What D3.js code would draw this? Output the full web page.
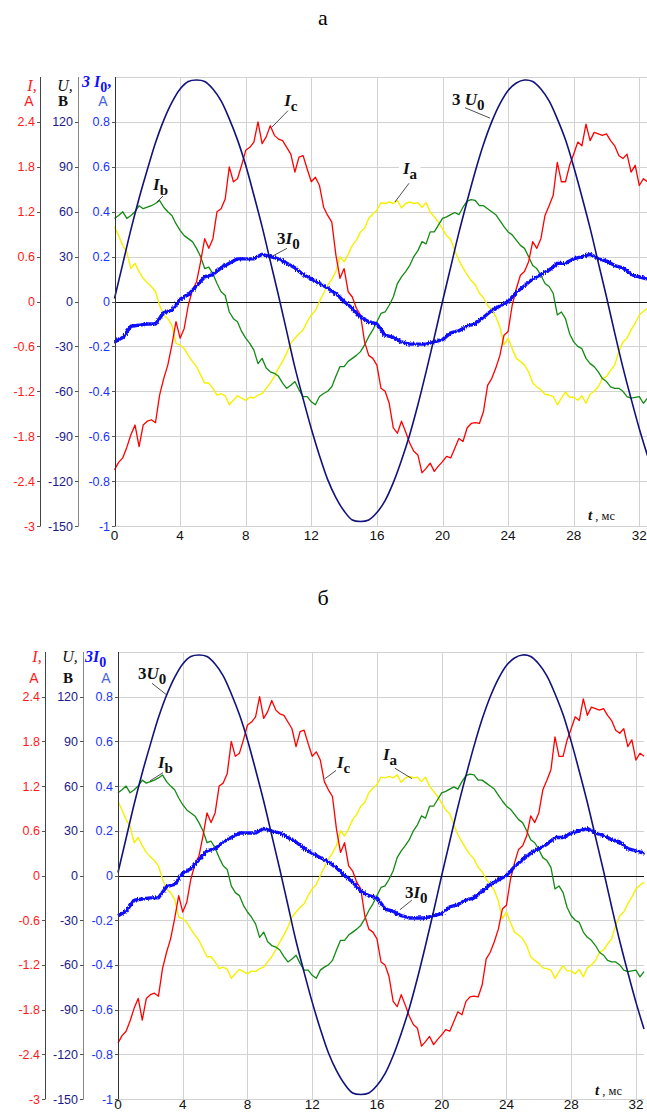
<!DOCTYPE html>
<html>
<head>
<meta charset="utf-8">
<script src="https://cdn.jsdelivr.net/npm/d3@7"></script>
<style>
  body { margin: 0; background: #fff; }
  svg { display: block; }
</style>
</head>
<body>
<svg id="chart" width="647" height="1113"></svg>
<script>
// ---- recorded waveforms, t = 0 … 32.5 ms ----
const STEP_FAST = 0.25;   // ms, phase currents
const STEP_SLOW = 0.5;    // ms, zero-sequence quantities

// phase current Ia, A
const currentA = [
  1.00, 0.88, 0.75, 0.66, 0.44, 0.51, 0.40, 0.31, 0.25, 0.20, 0.13, -0.05,
  -0.18, -0.23, -0.32, -0.56, -0.58, -0.63, -0.72, -0.80, -0.87, -0.98, -1.09, -1.09,
  -1.16, -1.25, -1.23, -1.26, -1.38, -1.32, -1.26, -1.29, -1.32, -1.28, -1.29, -1.25,
  -1.23, -1.16, -1.09, -1.00, -0.89, -0.80, -0.69, -0.56, -0.49, -0.43, -0.38, -0.27,
  -0.18, -0.12, 0.00, 0.11, 0.22, 0.30, 0.40, 0.60, 0.53, 0.63, 0.75, 0.82,
  0.93, 0.98, 1.11, 1.17, 1.22, 1.32, 1.31, 1.33, 1.31, 1.35, 1.25, 1.31,
  1.33, 1.31, 1.32, 1.26, 1.32, 1.20, 1.13, 1.06, 0.97, 0.88, 0.83, 0.68,
  0.55, 0.45, 0.36, 0.28, 0.22, 0.11, 0.05, -0.05, -0.12, -0.20, -0.34, -0.58,
  -0.49, -0.63, -0.76, -0.80, -0.85, -0.94, -1.09, -1.14, -1.18, -1.24, -1.25, -1.27,
  -1.38, -1.29, -1.21, -1.28, -1.28, -1.32, -1.26, -1.36, -1.24, -1.20, -1.14, -1.03,
  -1.00, -0.92, -0.85, -0.67, -0.54, -0.49, -0.38, -0.29, -0.18, -0.13, -0.09
];

// phase current Ib, A
const currentB = [
  1.11, 1.15, 1.20, 1.11, 1.15, 1.20, 1.28, 1.24, 1.26, 1.28, 1.31, 1.35,
  1.26, 1.20, 1.15, 1.04, 0.95, 0.88, 0.84, 0.80, 0.71, 0.60, 0.44, 0.46,
  0.37, 0.24, 0.13, 0.08, -0.14, -0.23, -0.27, -0.40, -0.49, -0.56, -0.65, -0.83,
  -0.76, -0.89, -0.94, -0.96, -1.00, -1.09, -1.16, -1.12, -1.07, -1.18, -1.27, -1.27,
  -1.34, -1.38, -1.27, -1.23, -1.20, -1.14, -1.00, -0.87, -0.87, -0.80, -0.76, -0.72,
  -0.67, -0.58, -0.47, -0.38, -0.27, -0.16, -0.14, -0.05, 0.06, 0.24, 0.33, 0.40,
  0.48, 0.60, 0.68, 0.80, 0.77, 0.93, 0.93, 1.02, 1.11, 1.13, 1.16, 1.19,
  1.16, 1.26, 1.34, 1.36, 1.35, 1.28, 1.28, 1.24, 1.20, 1.16, 1.08, 1.00,
  0.93, 0.89, 0.82, 0.75, 0.71, 0.60, 0.48, 0.44, 0.35, 0.24, 0.20, 0.11,
  -0.18, -0.14, -0.23, -0.43, -0.54, -0.60, -0.63, -0.76, -0.83, -0.87, -0.94, -1.03,
  -1.07, -1.14, -1.16, -1.16, -1.20, -1.27, -1.29, -1.28, -1.27, -1.36, -1.29
];

// phase current Ic, A
const currentC = [
  -2.25, -2.15, -2.09, -1.95, -1.78, -1.65, -1.94, -1.65, -1.60, -1.58, -1.62, -1.25,
  -1.03, -0.85, -0.58, -0.27, -0.49, -0.36, -0.05, 0.15, 0.26, 0.53, 0.84, 0.71,
  0.84, 1.20, 1.24, 1.37, 1.80, 1.60, 1.64, 1.82, 2.02, 2.06, 2.13, 2.40,
  2.11, 2.20, 2.35, 2.22, 2.17, 2.15, 2.06, 1.97, 1.73, 1.93, 1.95, 1.77,
  1.60, 1.66, 1.55, 1.26, 1.15, 1.06, 0.62, 0.31, 0.44, 0.13, 0.06, -0.09,
  -0.18, -0.54, -0.72, -0.76, -0.85, -1.16, -1.20, -1.36, -1.69, -1.76, -1.60, -1.74,
  -1.89, -2.00, -2.05, -2.29, -2.23, -2.16, -2.27, -2.20, -2.14, -2.07, -2.09, -1.96,
  -1.83, -1.87, -1.69, -1.63, -1.62, -1.63, -1.47, -1.12, -1.03, -0.89, -0.72, -0.45,
  -0.40, -0.05, 0.17, 0.35, 0.40, 0.53, 0.80, 0.71, 0.84, 1.15, 1.28, 1.42,
  1.86, 1.60, 1.60, 1.82, 1.97, 2.13, 2.08, 2.37, 2.15, 2.26, 2.24, 2.22,
  2.24, 2.15, 2.08, 1.95, 1.91, 1.97, 1.73, 1.82, 1.55, 1.64, 1.60
];

// zero-sequence current 3I0, A
const zeroCurrent = [
  -0.18, -0.16, -0.11, -0.105, -0.10, -0.10, -0.05, -0.04, 0.01, 0.03, 0.07, 0.11,
  0.12, 0.15, 0.17, 0.19, 0.19, 0.19, 0.21, 0.20, 0.19, 0.17, 0.15, 0.12,
  0.10, 0.08, 0.06, 0.035, 0.00, -0.03, -0.07, -0.09, -0.10, -0.15, -0.16, -0.18,
  -0.19, -0.19, -0.19, -0.18, -0.17, -0.14, -0.13, -0.11, -0.10, -0.07, -0.04, -0.02,
  0.00, 0.04, 0.07, 0.10, 0.12, 0.14, 0.17, 0.17, 0.19, 0.20, 0.21, 0.19,
  0.18, 0.16, 0.15, 0.12, 0.11, 0.10
];

// zero-sequence voltage 3U0, V
const zeroVoltage = [
  2, 25, 48, 69, 88, 106, 121, 133, 142, 147, 148, 147,
  142, 134, 122, 108, 91, 71, 50, 27, 4, -20, -44, -65,
  -85, -103, -119, -131, -140, -146, -147, -146, -141, -133, -121, -106,
  -89, -69, -47, -24, 0, 23, 46, 67, 87, 105, 120, 132,
  141, 146, 148, 147, 142, 134, 122, 108, 90, 70, 49, 26,
  3, -21, -44, -65, -85, -103
];

// ---- axes ----
const timeTicks = [0, 4, 8, 12, 16, 20, 24, 28, 32];
const currentTicks = [-3, -2.4, -1.8, -1.2, -0.6, 0, 0.6, 1.2, 1.8, 2.4];
const voltageTicks = [-150, -120, -90, -60, -30, 0, 30, 60, 90, 120];
const zeroCurrentTicks = [-1, -0.8, -0.6, -0.4, -0.2, 0, 0.2, 0.4, 0.6, 0.8];

const COLORS = {
  a: "#f6f000", b: "#138a13", c: "#ff0000", i0: "#1010ff", u0: "#12127c",
  iAxis: "#ff1a1a", uAxis: "#1b1b86", i0Axis: "#1a33ff"
};

// the two oscillogram panels share the record, differing in layout and annotation
const panels = [
  {
    title: "а", titleY: 25,
    left: 114.5, right: 647.5, top: 77, bottom: 526,
    axisI: 40, axisU: 78,
    headRow1: 91, headRow2: 106, headI0Row1: 87,
    tickBaseline: 14, tLabel: [588, 520],
    i0Title: "3 I", i0Comma: true,
    labels: [
      { pre: "",   main: "I", sub: "c", at: [10.35, 2.61], lead: [[10.58, 2.55], [9.60, 2.33]] },
      { pre: "",   main: "I", sub: "b", at: [2.35, 1.49],  lead: [[2.96, 1.41], [2.59, 1.33]] },
      { pre: "3",  main: "I", sub: "0", at: [9.91, 0.77],  lead: [[10.52, 0.71], [9.66, 0.61]] },
      { pre: "",   main: "I", sub: "a", at: [17.59, 1.71], lead: [[17.96, 1.58], [17.10, 1.33]] },
      { pre: "3 ", main: "U", sub: "0", at: [20.58, 2.62], lead: [[21.37, 2.59], [22.90, 2.45]] }
    ]
  },
  {
    title: "б", titleY: 605,
    left: 118, right: 644, top: 652, bottom: 1099,
    axisI: 45, axisU: 83,
    headRow1: 662, headRow2: 683, headI0Row1: 662,
    tickBaseline: 10, tLabel: [595, 1095],
    i0Title: "3I", i0Comma: false,
    labels: [
      { pre: "3", main: "U", sub: "0", at: [1.24, 2.64],  lead: [[2.10, 2.58], [3.03, 2.42]] },
      { pre: "",  main: "I", sub: "b", at: [2.47, 1.44],  lead: [[2.78, 1.38], [1.98, 1.27]] },
      { pre: "",  main: "I", sub: "c", at: [13.53, 1.44], lead: [[13.47, 1.41], [12.79, 1.30]] },
      { pre: "",  main: "I", sub: "a", at: [16.37, 1.55], lead: [[17.11, 1.44], [18.16, 1.30]] },
      { pre: "3", main: "I", sub: "0", at: [17.73, -0.30], lead: [[18.16, -0.33], [17.42, -0.46]] }
    ]
  }
];

const SERIF = "'Liberation Serif', 'DejaVu Serif', serif";
const SANS = "'Liberation Sans', Arial, sans-serif";
const fmt = v => String(v);

const svg = d3.select("#chart");

// fine measurement noise on the zero-sequence current trace
const defs = svg.append("defs");
const jitter = defs.append("filter").attr("id", "noise")
  .attr("filterUnits", "userSpaceOnUse")
  .attr("x", 0).attr("y", 0).attr("width", 647).attr("height", 1113);
jitter.append("feTurbulence").attr("type", "fractalNoise")
  .attr("baseFrequency", "0.9 0.35").attr("numOctaves", 1).attr("seed", 7).attr("result", "n");
jitter.append("feDisplacementMap").attr("in", "SourceGraphic").attr("in2", "n")
  .attr("scale", 4).attr("xChannelSelector", "R").attr("yChannelSelector", "G");

function drawPanel(p) {
  const g = svg.append("g");
  const x = d3.scaleLinear().domain([0, 32.5]).range([p.left, p.right]);
  const yI = d3.scaleLinear().domain([-3, 3]).range([p.bottom, p.top]);
  const yU = d3.scaleLinear().domain([-150, 150]).range([p.bottom, p.top]);
  const y0 = d3.scaleLinear().domain([-1, 1]).range([p.bottom, p.top]);

  // panel letter
  g.append("text").attr("x", 323).attr("y", p.titleY)
    .attr("text-anchor", "middle").attr("font-family", SERIF).attr("font-size", 22)
    .text(p.title);

  // grid
  const grid = g.append("g").attr("stroke", "#d2d2d2").attr("stroke-width", 1);
  grid.selectAll(".v").data(timeTicks.filter(d => d > 0)).join("line")
    .attr("x1", d => Math.round(x(d)) + 0.5).attr("x2", d => Math.round(x(d)) + 0.5)
    .attr("y1", p.top).attr("y2", p.bottom);
  grid.selectAll(".h").data(currentTicks.filter(d => d !== 0).concat([3])).join("line")
    .attr("x1", p.left).attr("x2", p.right)
    .attr("y1", d => Math.round(yI(d)) + 0.5).attr("y2", d => Math.round(yI(d)) + 0.5);

  const boxLayer = g.append("g");
  const traceLayer = g.append("g").attr("fill", "none").attr("stroke-linejoin", "round");
  const textLayer = g.append("g");

  // zero line
  traceLayer.append("line").attr("x1", p.left).attr("x2", p.right)
    .attr("y1", Math.round(yI(0)) + 0.5).attr("y2", Math.round(yI(0)) + 0.5)
    .attr("stroke", "#111").attr("stroke-width", 1);

  const series = (values, step, scale) =>
    d3.line().x((d, i) => x(i * step)).y(d => scale(d))(values);

  traceLayer.append("path").attr("d", series(currentA, STEP_FAST, yI))
    .attr("stroke", COLORS.a).attr("stroke-width", 1.4);
  traceLayer.append("path").attr("d", series(currentB, STEP_FAST, yI))
    .attr("stroke", COLORS.b).attr("stroke-width", 1.3);
  traceLayer.append("path").attr("d", series(currentC, STEP_FAST, yI))
    .attr("stroke", COLORS.c).attr("stroke-width", 1.3);
  traceLayer.append("path").attr("d", series(zeroCurrent, STEP_SLOW, y0))
    .attr("stroke", COLORS.i0).attr("stroke-width", 3.4).attr("filter", "url(#noise)");
  traceLayer.append("path")
    .attr("d", d3.line().curve(d3.curveCatmullRom).x((d, i) => x(i * STEP_SLOW)).y(d => yU(d))(zeroVoltage))
    .attr("stroke", COLORS.u0).attr("stroke-width", 1.6);

  // vertical axes
  const axisLine = (xx, color) => g.append("line")
    .attr("x1", xx + 0.5).attr("x2", xx + 0.5).attr("y1", p.top).attr("y2", p.bottom)
    .attr("stroke", color).attr("stroke-width", 1);
  axisLine(p.axisI, "#444");
  axisLine(p.axisU, "#888");
  axisLine(Math.round(p.left), "#333");

  const tickSet = (ticks, scale, xx, color) => {
    const a = g.append("g");
    a.selectAll("line").data(ticks).join("line")
      .attr("x1", xx - 3).attr("x2", xx + 0.5)
      .attr("y1", d => Math.round(scale(d)) + 0.5).attr("y2", d => Math.round(scale(d)) + 0.5)
      .attr("stroke", "#555");
    a.selectAll("text").data(ticks).join("text")
      .attr("x", xx - 5).attr("y", d => scale(d) + 4.5)
      .attr("text-anchor", "end").attr("font-family", SANS).attr("font-size", 12.5)
      .attr("fill", color).text(fmt);
  };
  tickSet(currentTicks, yI, p.axisI, COLORS.iAxis);
  tickSet(voltageTicks, yU, p.axisU, COLORS.uAxis);
  tickSet(zeroCurrentTicks, y0, Math.round(p.left), COLORS.i0Axis);

  // axis headings
  g.append("text").attr("x", p.axisI - 8).attr("y", p.headRow1)
    .attr("text-anchor", "middle").attr("font-family", SERIF).attr("font-size", 16)
    .attr("font-style", "italic").attr("fill", COLORS.iAxis).text("I,");
  g.append("text").attr("x", p.axisI - 11).attr("y", p.headRow2)
    .attr("text-anchor", "middle").attr("font-family", SANS).attr("font-size", 14)
    .attr("fill", COLORS.iAxis).text("A");
  g.append("text").attr("x", p.axisU - 13).attr("y", p.headRow1)
    .attr("text-anchor", "middle").attr("font-family", SERIF).attr("font-size", 16)
    .attr("font-style", "italic").attr("fill", "#111").text("U,");
  g.append("text").attr("x", p.axisU - 15).attr("y", p.headRow2)
    .attr("text-anchor", "middle").attr("font-family", SERIF).attr("font-size", 15)
    .attr("font-weight", "bold").attr("fill", "#111").text("В");
  const h0 = g.append("text").attr("x", Math.round(p.left) - 33).attr("y", p.headI0Row1)
    .attr("font-family", SERIF).attr("font-size", 16).attr("font-weight", "bold")
    .attr("font-style", "italic").attr("fill", COLORS.i0);
  h0.append("tspan").text(p.i0Title);
  h0.append("tspan").attr("dy", 5).attr("font-style", "normal").attr("font-size", 14).text("0");
  if (p.i0Comma) h0.append("tspan").attr("dy", -5).attr("font-style", "normal").text(",");
  g.append("text").attr("x", Math.round(p.left) - 12).attr("y", p.headRow2)
    .attr("text-anchor", "middle").attr("font-family", SANS).attr("font-size", 14)
    .attr("fill", "#4466e0").text("A");

  // time axis
  g.append("g").selectAll("text").data(timeTicks).join("text")
    .attr("x", d => x(d)).attr("y", p.bottom + p.tickBaseline)
    .attr("text-anchor", "middle").attr("font-family", SANS).attr("font-size", 13.5)
    .attr("fill", "#111").text(fmt);
  const tl = textLayer.append("text").attr("x", p.tLabel[0]).attr("y", p.tLabel[1])
    .attr("font-family", SERIF).attr("fill", "#111");
  tl.append("tspan").attr("font-style", "italic").attr("font-weight", "bold").attr("font-size", 15).text("t");
  tl.append("tspan").attr("font-size", 12.5).text(" , мс");

  // trace annotations
  const boxed = [tl];
  p.labels.forEach(l => {
    textLayer.append("line")
      .attr("x1", x(l.lead[0][0])).attr("y1", yI(l.lead[0][1]))
      .attr("x2", x(l.lead[1][0])).attr("y2", yI(l.lead[1][1]))
      .attr("stroke", "#222").attr("stroke-width", 0.8);
    const t = textLayer.append("text").attr("x", x(l.at[0])).attr("y", yI(l.at[1]))
      .attr("font-family", SERIF).attr("font-size", 17).attr("font-weight", "bold").attr("fill", "#111");
    if (l.pre) t.append("tspan").text(l.pre);
    t.append("tspan").attr("font-style", "italic").text(l.main);
    t.append("tspan").attr("dy", 5).attr("font-size", 15).text(l.sub);
    boxed.push(t);
  });
  boxed.forEach(t => {
    const b = t.node().getBBox();
    boxLayer.append("rect").attr("x", b.x - 3).attr("y", b.y - 1)
      .attr("width", b.width + 6).attr("height", b.height + 2).attr("fill", "#fff");
  });
}

panels.forEach(drawPanel);
</script>
</body>
</html>
